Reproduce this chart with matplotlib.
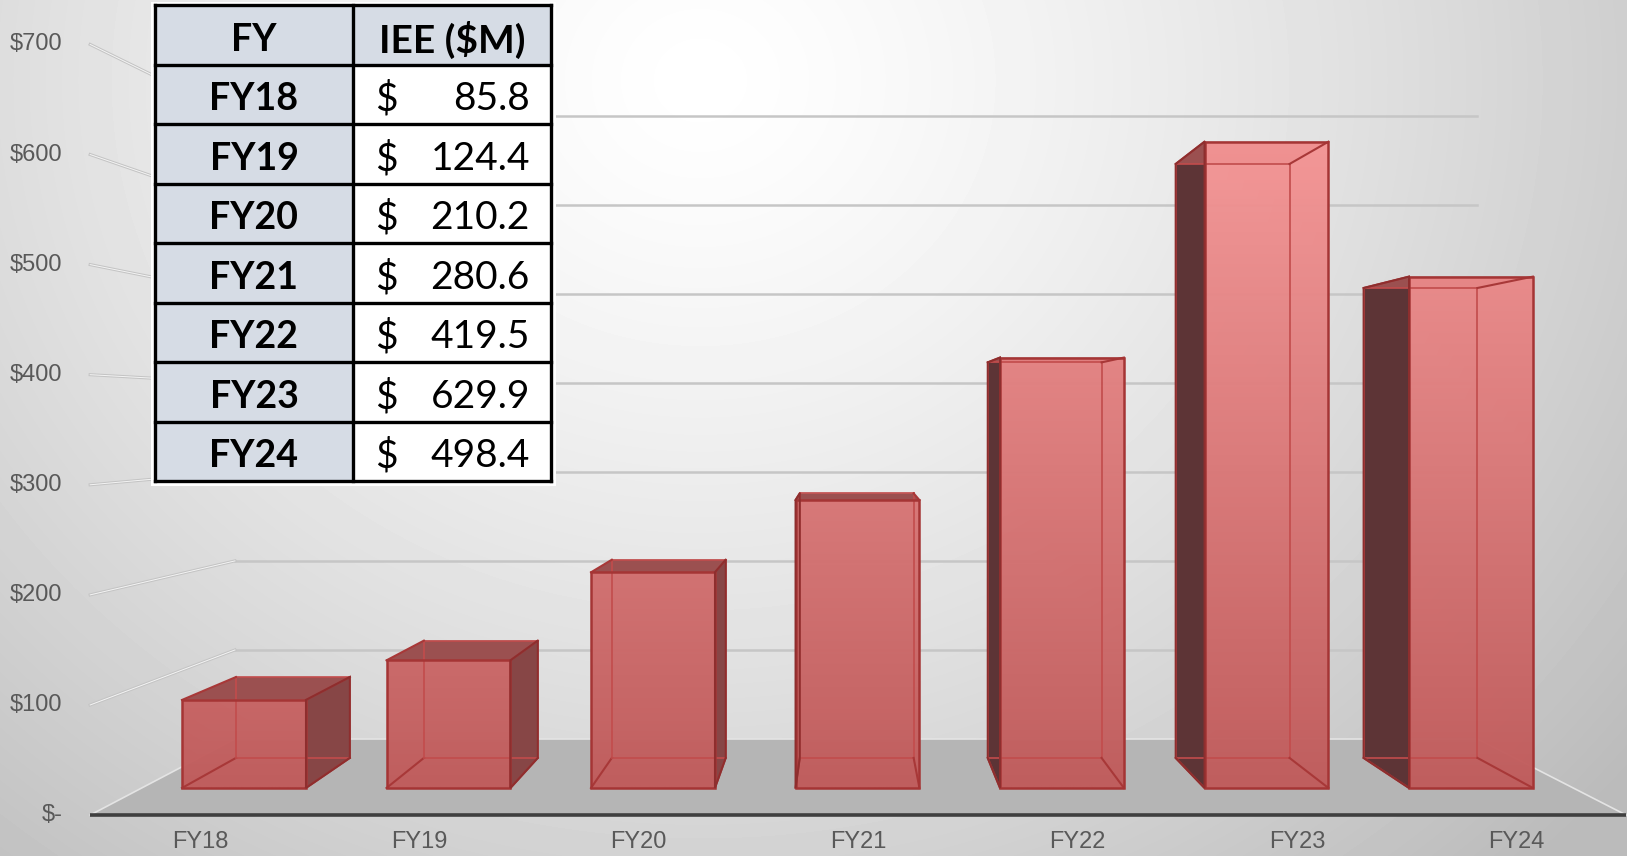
import numpy as np
import matplotlib
matplotlib.use('Agg')
import matplotlib.pyplot as plt
from matplotlib.patches import Polygon, Rectangle
from matplotlib.colors import LinearSegmentedColormap

# data
years = ['FY18', 'FY19', 'FY20', 'FY21', 'FY22', 'FY23', 'FY24']
iee = [85.8, 124.4, 210.2, 280.6, 419.5, 629.9, 498.4]
y_ticks = [0, 100, 200, 300, 400, 500, 600, 700]
y_tick_labels = ['$-', '$100', '$200', '$300', '$400', '$500', '$600', '$700']
table_header = ['FY', 'IEE ($M)']

W, H = 1627, 856
fig = plt.figure(figsize=(W / 100, H / 100), dpi=100)

# soft radial background
bg = fig.add_axes([0, 0, 1, 1])
bg.axis('off')
yy, xx = np.mgrid[0:H, 0:W]
r = np.hypot(xx - 700, (yy - 80) / 0.9) / 1000
bg.imshow(1 - 0.21 * np.clip(r, 0, 1.2) ** 1.3, cmap='gray', vmin=0, vmax=1,
          extent=[0, W, H, 0], aspect='auto', interpolation='bilinear')
bg.set_xlim(0, W)
bg.set_ylim(H, 0)

# chart axes: x = category index, y = value (front plane of the bars)
ax = fig.add_axes([0, 0, 1, 1])
ax.axis('off')
ax.set_xlim(-1.193, 6.763)
ax.set_ylim(-66.3, 768.0)

# one-point perspective: depth plane scaled towards vanishing point
VX, VY = 2.954, 361.6
S_FLOOR, S_BACK, S_WALL = 1.073, 0.919, 0.868
X0, X1 = -0.5, 6.5
HALF = 0.303


def proj(x, y, s):
    return (VX + (x - VX) * s, VY + (y - VY) * s)


# floor
floor = [proj(X0, 0, S_FLOOR), proj(X1, 0, S_FLOOR), proj(X1, 0, S_WALL), proj(X0, 0, S_WALL)]
ax.add_patch(Polygon(floor, closed=True, fc='#b5b5b5', ec='none', zorder=1))
for a, b in [(floor[0], floor[3]), (floor[1], floor[2]), (floor[3], floor[2])]:
    ax.plot([a[0], b[0]], [a[1], b[1]], color='#e4e4e4', lw=1.2, zorder=1.5)
ax.plot([floor[0][0], floor[1][0]], [floor[0][1], floor[1][1]], color='#3f3f3f',
        lw=2.6, solid_capstyle='butt', zorder=6)

# gridlines (back wall + left wall) and tick labels
for v, lbl in zip(y_ticks, y_tick_labels):
    if v > 0:
        p, q = proj(X0, v, S_WALL), proj(X1, v, S_WALL)
        ax.plot([p[0], q[0]], [p[1], q[1]], color='#c6c6c6', lw=1.8, zorder=1)
        f = proj(X0, v, S_FLOOR)
        ax.plot([f[0], p[0]], [f[1], p[1]], color='#c4c4c4', lw=2.2, zorder=1)
        ax.plot([f[0], p[0]], [f[1], p[1]], color='#f4f4f4', lw=0.7, zorder=1)
    ax.annotate(lbl, xy=proj(X0, v, S_FLOOR), xytext=(-28, 0), textcoords='offset pixels',
                ha='right', va='center', fontsize=17, color='#595959',
                family='Liberation Sans')

for i, name in enumerate(years):
    ax.annotate(name, xy=proj(i, 0, S_FLOOR), xytext=(0, -27), textcoords='offset pixels',
                ha='center', va='center', fontsize=17, color='#595959',
                family='Liberation Sans')

# bars
bar_cmap = LinearSegmentedColormap.from_list('bar', ['#c05b5b', '#f59696'])
for i, v in enumerate(iee):
    fl, fr = i - HALF, i + HALF
    F = [proj(fl, 0, 1), proj(fr, 0, 1), proj(fr, v, 1), proj(fl, v, 1)]
    B = [proj(fl, 0, S_BACK), proj(fr, 0, S_BACK), proj(fr, v, S_BACK), proj(fl, v, S_BACK)]
    if i < VX:
        side, side_c = [F[1], B[1], B[2], F[2]], '#874646'
    else:
        side, side_c = [F[0], B[0], B[3], F[3]], '#5d3436'
    ax.add_patch(Polygon(side, closed=True, fc=side_c, ec='none', zorder=3))
    ax.add_patch(Polygon([F[3], F[2], B[2], B[3]], closed=True, fc='#9b5050', ec='none', zorder=3))
    front = Polygon(F, closed=True, fc='none', ec='none', zorder=4)
    ax.add_patch(front)
    grad = np.linspace(0, v / 640, 200).reshape(-1, 1)
    im = ax.imshow(grad, cmap=bar_cmap, vmin=0, vmax=1, origin='lower', aspect='auto',
                   extent=[fl, fr, 0, v], zorder=4, alpha=0.97)
    im.set_clip_path(front)
    # edges seen through the glassy box
    for k in range(4):
        ax.plot([B[k][0], B[(k + 1) % 4][0]], [B[k][1], B[(k + 1) % 4][1]],
                color='#c24c4c', lw=1.2, zorder=5)
        ax.plot([F[k][0], B[k][0]], [F[k][1], B[k][1]], color='#a83838', lw=1.5, zorder=5)
    ax.add_patch(Polygon(F, closed=True, fc='none', ec='#a53535', lw=1.8, zorder=5))
    ax.add_patch(Polygon(side, closed=True, fc='none', ec='#8e2e2e', lw=1.4, zorder=5))

ax.set_xlim(-1.193, 6.763)
ax.set_ylim(-66.3, 768.0)

# data table overlay (pixel coordinates)
tax = fig.add_axes([0, 0, 1, 1])
tax.axis('off')
tax.set_xlim(0, W)
tax.set_ylim(H, 0)
cols = [155, 353, 551]
t_top, t_bot = 5, 481
n_rows = len(years) + 1
row_h = (t_bot - t_top) / n_rows
tax.add_patch(Rectangle((151, 2), 405, 484, fc='white', ec='none', zorder=1))
tax.add_patch(Rectangle((cols[0], t_top), cols[1] - cols[0], t_bot - t_top, fc='#d6dce5', ec='none', zorder=2))
tax.add_patch(Rectangle((cols[1], t_top), cols[2] - cols[1], row_h, fc='#d6dce5', ec='none', zorder=2))
for k in range(n_rows + 1):
    yk = t_top + k * row_h
    tax.plot([cols[0], cols[2]], [yk, yk], color='black', lw=2.4, zorder=3, solid_capstyle='projecting')
for xc in cols:
    tax.plot([xc, xc], [t_top, t_bot], color='black', lw=2.4, zorder=3, solid_capstyle='projecting')

tfont = dict(family='Lato', color='black', zorder=4)
dy = 5  # text sits a bit low in its cell
tax.text((cols[0] + cols[1]) / 2, t_top + row_h / 2 + dy, table_header[0], ha='center', va='center',
         weight='bold', fontsize=27, **tfont)
tax.text((cols[1] + cols[2]) / 2, t_top + row_h / 2 + dy, table_header[1], ha='center', va='center',
         weight='bold', fontsize=28, **tfont)
for k, (name, v) in enumerate(zip(years, iee)):
    yc = t_top + (k + 1.5) * row_h + dy
    tax.text((cols[0] + cols[1]) / 2, yc, name, ha='center', va='center', weight='bold',
             fontsize=27, **tfont)
    tax.text(cols[1] + 22, yc, '$', ha='left', va='center', fontsize=28, **tfont)
    tax.text(cols[2] - 21, yc, f'{v:.1f}', ha='right', va='center', fontsize=28, **tfont)

fig.savefig('out.png', dpi=100)
